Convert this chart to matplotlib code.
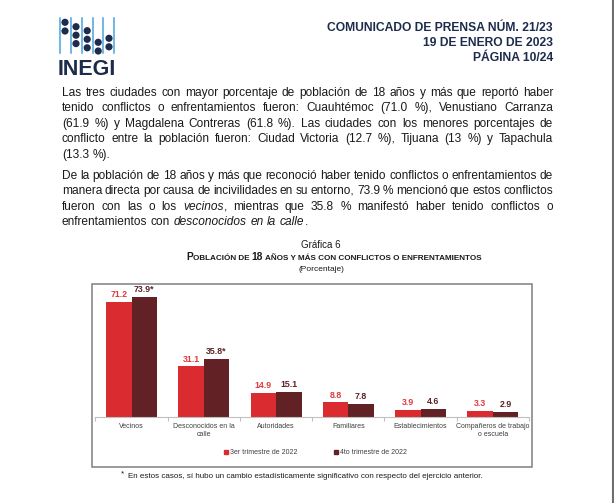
import re
import matplotlib.pyplot as plt
from matplotlib.patches import Rectangle, Circle
from matplotlib.lines import Line2D
import numpy as np

W, H = 614, 503

# datos de la gráfica
categorias = ['Vecinos', 'Desconocidos en la\ncalle', 'Autoridades', 'Familiares',
              'Establecimientos', 'Compañeros de trabajo\no escuela']
trim3 = [71.2, 31.1, 14.9, 8.8, 3.9, 3.3]
trim4 = [73.9, 35.8, 15.1, 7.8, 4.6, 2.9]
signif4 = [True, True, False, False, False, False]
series = ['3er trimestre de 2022', '4to trimestre de 2022']

encabezado = ['COMUNICADO DE PRENSA NÚM. 21/23', '19 DE ENERO DE 2023', 'PÁGINA 10/24']

parrafo1 = [
    'Las tres ciudades con mayor porcentaje de población de 18 años y más que reportó haber',
    'tenido conflictos o enfrentamientos fueron: Cuauhtémoc (71.0 %), Venustiano Carranza',
    '(61.9 %) y Magdalena Contreras (61.8 %). Las ciudades con los menores porcentajes de',
    'conflicto entre la población fueron: Ciudad Victoria (12.7 %), Tijuana (13 %) y Tapachula',
    '(13.3 %).',
]
parrafo2 = [
    'De la población de 18 años y más que reconoció haber tenido conflictos o enfrentamientos de',
    'manera directa por causa de incivilidades en su entorno, 73.9 % mencionó que estos conflictos',
    'fueron con las o los *vecinos*, mientras que 35.8 % manifestó haber tenido conflictos o',
    'enfrentamientos con *desconocidos* *en* *la* *calle*.',
]
nota = 'En estos casos, sí hubo un cambio estadísticamente significativo con respecto del ejercicio anterior.'

plt.rcParams['font.family'] = ['Liberation Sans', 'DejaVu Sans']

fig = plt.figure(figsize=(W / 100, H / 100), dpi=100)
fig.patch.set_facecolor('white')
r = fig.canvas.get_renderer()

# capa de fondo en pixeles
bg = fig.add_axes([0, 0, 1, 1])
bg.set_xlim(0, W)
bg.set_ylim(H, 0)
bg.axis('off')

azul = '#1d2c4c'
negro = '#1a1a1a'

# borde de página
bg.plot([613, 613], [0, H], color='#6e6e6e', lw=1.5)

# logo
for xl in [59.5, 70.7, 81.7, 92.7, 103.3, 114.3]:
    bg.plot([xl, xl], [18, 53], color='#4aa3df', lw=1.1)
puntos = [(65, 22.3), (65, 31), (76, 26.7), (76, 35.2), (76, 43.6), (87.2, 30.7), (87.2, 39.3),
          (87.2, 47.8), (98.2, 42.3), (98.2, 51), (109, 38.3), (109, 46.8)]
for px_, py_ in puntos:
    bg.add_patch(Circle((px_, py_), 3.6, color=azul, lw=0))
bg.text(86.5, 75, 'INEGI', fontsize=15.5, fontweight='bold', color=azul, ha='center', va='baseline')

# encabezado
for i, t in enumerate(encabezado):
    bg.text(553, 31 + 15 * i, t, fontsize=8.7, fontweight='bold', color=azul, ha='right', va='baseline')


def ancho(t):
    return t.get_window_extent(r).width


def linea(texto, x0, x1, y, justificar, size=8.6):
    tokens = texto.split(' ')
    grupos, anchos = [], []
    for tok in tokens:
        segs = [s for s in re.split(r'(\*[^*]+\*)', tok) if s]
        ts = []
        for s in segs:
            ital = s.startswith('*')
            ts.append(bg.text(0, y, s.strip('*'), fontsize=size, color=negro,
                              style='italic' if ital else 'normal', va='baseline', ha='left'))
        grupos.append(ts)
        anchos.append(sum(ancho(t) for t in ts))
    if justificar:
        gap = (x1 - x0 - sum(anchos)) / (len(tokens) - 1)
    else:
        gap = 0.3 * size * 100 / 72
    x = x0
    for ts in grupos:
        for t in ts:
            t.set_position((x, y))
            x += ancho(t)
        x += gap


# líneas de base enteras para evitar saltos de redondeo
base1 = [96, 111, 127, 142, 158]
base2 = [179, 194, 210, 225]
for i, l in enumerate(parrafo1):
    linea(l, 62, 553, base1[i], i < len(parrafo1) - 1)
for i, l in enumerate(parrafo2):
    linea(l, 62, 553, base2[i], i < len(parrafo2) - 1)

# títulos de la gráfica
bg.text(321, 248, 'Gráfica 6', fontsize=7, color=negro, ha='center', va='baseline')
partes = [('P', 7.4), ('OBLACIÓN DE ', 5.9), ('18', 7.4),
          (' AÑOS Y MÁS CON CONFLICTOS O ENFRENTAMIENTOS', 5.9)]
ts = [bg.text(0, 260, p, fontsize=s, fontweight='bold', color=negro, va='baseline') for p, s in partes]
tot = sum(ancho(t) for t in ts)
x = 334 - tot / 2
for t in ts:
    t.set_position((x, 260))
    x += ancho(t)
bg.text(321, 271, '(Porcentaje)', fontsize=6, color=negro, ha='center', va='baseline')

# recuadro
bg.add_patch(Rectangle((92, 284), 440, 183, fill=False, edgecolor='#7f7f7f', lw=1.1))

# gráfica de barras
x0, x1, ytop, ybase = 95.4, 529, 284, 416.7
ax = fig.add_axes([x0 / W, 1 - ybase / H, (x1 - x0) / W, (ybase - ytop) / H])
ax.patch.set_visible(False)
xs = np.arange(len(categorias))
w = 0.353
rojo, vino = '#d92b30', '#612125'
ax.bar(xs - w / 2, trim3, w, color=rojo, label=series[0])
ax.bar(xs + w / 2, trim4, w, color=vino, label=series[1])
for xi, v in zip(xs, trim3):
    ax.text(xi - w / 2, v + 1.8, f'{v:.1f}', ha='center', va='bottom', fontsize=6.3,
            fontweight='bold', color='#e0393e')
for xi, v, s in zip(xs, trim4, signif4):
    ax.text(xi + w / 2, v + 1.8, f'{v:.1f}' + ('*' if s else ''), ha='center', va='bottom',
            fontsize=6.3, fontweight='bold', color='#5a2226')
ax.set_xlim(-0.5, len(categorias) - 0.5)
ax.set_ylim(0, (ybase - ytop) / 1.615)
for s in ['top', 'right', 'left']:
    ax.spines[s].set_visible(False)
ax.spines['bottom'].set_color('#bfbfbf')
ax.spines['bottom'].set_linewidth(0.8)
ax.set_yticks([])
ax.set_xticks(xs)
ax.set_xticklabels(categorias, fontsize=5.0, color='#404040')
ax.tick_params(axis='x', which='major', length=0, pad=4.8)
ax.set_xticks(np.arange(-0.5, len(categorias)), minor=True)
ax.tick_params(axis='x', which='minor', length=3, color='#bfbfbf', width=0.8)

handles = [Line2D([], [], marker='s', ls='', color=rojo, markersize=3.0),
           Line2D([], [], marker='s', ls='', color=vino, markersize=3.0)]
fig.legend(handles, series, loc='center', bbox_to_anchor=(315, 453), bbox_transform=bg.transData,
           ncol=2, frameon=False, fontsize=5.0, handletextpad=0.1, columnspacing=5.0,
           handlelength=1.0, labelcolor='#404040')

# nota
bg.text(121, 475, '*', fontsize=6, color=negro, ha='left', va='baseline')
bg.text(128, 478, nota, fontsize=5.75, color=negro, ha='left', va='baseline')

fig.savefig('out.png', dpi=100)
